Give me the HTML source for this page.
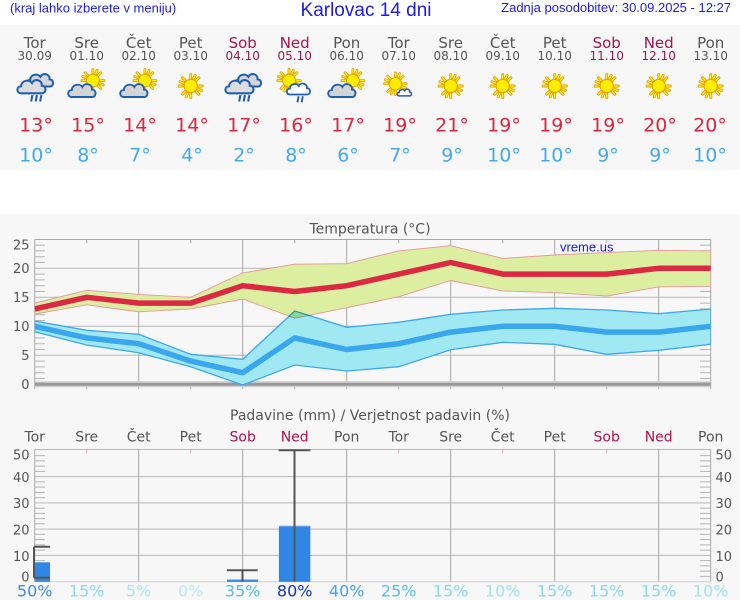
<!DOCTYPE html>
<html><head><meta charset="utf-8"><style>
html,body{margin:0;padding:0;background:#fff;}
svg{display:block;}
</style></head><body>
<svg width="740" height="600" viewBox="0 0 740 600" xmlns="http://www.w3.org/2000/svg" font-family="'DejaVu Sans', sans-serif">
<defs>
  <clipPath id="tc"><rect x="34.7" y="239.5" width="676" height="150"/></clipPath>
  <path id="cl" d="M-11,6 C-15.5,6 -15.5,-0.5 -11,-0.5 C-11,-5.5 -4,-7.5 -1,-3.5 C1,-8 8.5,-6.5 8,-1 C12.5,-1 12.5,6 8,6 Z"/>
  <g id="sun">
    <g stroke="#e39a00" stroke-width="2.8" stroke-linecap="round">
      <path d="M0,-7.5V-11 M0,7.5V11 M-7.5,0H-11 M7.5,0H11 M5.3,-5.3L7.8,-7.8 M-5.3,-5.3L-7.8,-7.8 M5.3,5.3L7.8,7.8 M-5.3,5.3L-7.8,7.8 M2.9,-6.9L4.2,-10.2 M-2.9,6.9L-4.2,10.2 M6.9,2.9L10.2,4.2 M-6.9,-2.9L-10.2,-4.2"/>
    </g>
    <g stroke="#fff000" stroke-width="1.3" stroke-linecap="round">
      <path d="M0,-7.5V-11 M0,7.5V11 M-7.5,0H-11 M7.5,0H11 M5.3,-5.3L7.8,-7.8 M-5.3,-5.3L-7.8,-7.8 M5.3,5.3L7.8,7.8 M-5.3,5.3L-7.8,7.8 M2.9,-6.9L4.2,-10.2 M-2.9,6.9L-4.2,10.2 M6.9,2.9L10.2,4.2 M-6.9,-2.9L-10.2,-4.2"/>
    </g>
    <circle r="6.3" fill="#ffee00" stroke="#e8a000" stroke-width="1"/>
  </g>
  <g id="rain">
    <use href="#cl" transform="translate(5,-4) scale(0.8)" fill="#d6d6d6" stroke="#1f5fb2" stroke-width="2"/>
    <use href="#cl" transform="translate(-1.5,1) scale(0.85)" fill="#dcdcdc" stroke="#1f5fb2" stroke-width="1.9"/>
    <path d="M-2,7.5L-3,12.5 M1.5,7.5L0.5,12.5 M5,7.5L4,12.5" stroke="#1f5fb2" stroke-width="1.6"/>
  </g>
  <g id="suncloud">
    <use href="#sun" transform="translate(5,-5) scale(0.85)"/>
    <use href="#cl" transform="translate(-3,3.5) scale(0.9)" fill="#d4d4d4" stroke="#1f5fb2" stroke-width="1.8"/>
  </g>
  <g id="sunrain">
    <use href="#sun" transform="translate(-5,-4) scale(0.85)"/>
    <use href="#cl" transform="translate(4,3) scale(0.75)" fill="#ffffff" stroke="#1f5fb2" stroke-width="2"/>
    <path d="M3,9L2,14 M6.5,9L5.5,14" stroke="#1f5fb2" stroke-width="1.6"/>
  </g>
  <g id="sunsmall">
    <use href="#sun" transform="translate(-3,-2) scale(0.9)"/>
    <use href="#cl" transform="translate(6,6) scale(0.5)" fill="#ffffff" stroke="#1f5fb2" stroke-width="2.8"/>
  </g>
</defs>

<!-- backgrounds -->
<rect x="0" y="0" width="740" height="600" fill="#ffffff"/>
<rect x="0" y="25" width="740" height="145" fill="#f7f7f7"/>
<rect x="0" y="214" width="740" height="386" fill="#f7f7f7"/>

<!-- header -->
<g font-family="'Liberation Sans', Arial, sans-serif" fill="#1a1aee">
  <text x="10" y="12.5" font-size="13">(kraj lahko izberete v meniju)</text>
  <text x="366" y="16" font-size="19" text-anchor="middle">Karlovac 14 dni</text>
  <text x="731" y="12" font-size="13" text-anchor="end">Zadnja posodobitev: 30.09.2025 - 12:27</text>
</g>

<!-- day names -->
<g font-size="15" text-anchor="middle" fill="#555">
  <text x="34.7" y="48">Tor</text><text x="86.7" y="48">Sre</text><text x="138.7" y="48">Čet</text><text x="190.7" y="48">Pet</text>
  <text x="242.7" y="48" fill="#a8124e">Sob</text><text x="294.7" y="48" fill="#a8124e">Ned</text><text x="346.7" y="48">Pon</text>
  <text x="398.7" y="48">Tor</text><text x="450.7" y="48">Sre</text><text x="502.7" y="48">Čet</text><text x="554.7" y="48">Pet</text>
  <text x="606.7" y="48" fill="#a8124e">Sob</text><text x="658.7" y="48" fill="#a8124e">Ned</text><text x="710.7" y="48">Pon</text>
</g>
<g font-size="12" text-anchor="middle" fill="#555">
  <text x="34.7" y="60">30.09</text><text x="86.7" y="60">01.10</text><text x="138.7" y="60">02.10</text><text x="190.7" y="60">03.10</text>
  <text x="242.7" y="60" fill="#a8124e">04.10</text><text x="294.7" y="60" fill="#a8124e">05.10</text><text x="346.7" y="60">06.10</text>
  <text x="398.7" y="60">07.10</text><text x="450.7" y="60">08.10</text><text x="502.7" y="60">09.10</text><text x="554.7" y="60">10.10</text>
  <text x="606.7" y="60" fill="#a8124e">11.10</text><text x="658.7" y="60" fill="#a8124e">12.10</text><text x="710.7" y="60">13.10</text>
</g>

<!-- icons -->
<use href="#rain" transform="translate(35,85.5) scale(1.28)"/>
<use href="#suncloud" transform="translate(87,86.5) scale(1.18)"/>
<use href="#suncloud" transform="translate(139,86.5) scale(1.18)"/>
<use href="#sun" transform="translate(190.7,86) scale(1.05)"/>
<use href="#rain" transform="translate(243,85.5) scale(1.28)"/>
<use href="#sunrain" transform="translate(295,85.5) scale(1.2)"/>
<use href="#suncloud" transform="translate(347,86.5) scale(1.18)"/>
<use href="#sunsmall" transform="translate(398.7,86) scale(1.1)"/>
<use href="#sun" transform="translate(450.7,86) scale(1.05)"/>
<use href="#sun" transform="translate(502.7,86) scale(1.05)"/>
<use href="#sun" transform="translate(554.7,86) scale(1.05)"/>
<use href="#sun" transform="translate(606.7,86) scale(1.05)"/>
<use href="#sun" transform="translate(658.7,86) scale(1.05)"/>
<use href="#sun" transform="translate(710.7,86) scale(1.05)"/>

<!-- max temps -->
<g font-size="19" text-anchor="middle" fill="#e0243c">
  <text x="36" y="131.5">13°</text><text x="88" y="131.5">15°</text><text x="140" y="131.5">14°</text><text x="192" y="131.5">14°</text>
  <text x="244" y="131.5">17°</text><text x="296" y="131.5">16°</text><text x="348" y="131.5">17°</text><text x="400" y="131.5">19°</text>
  <text x="452" y="131.5">21°</text><text x="504" y="131.5">19°</text><text x="556" y="131.5">19°</text><text x="608" y="131.5">19°</text>
  <text x="660" y="131.5">20°</text><text x="710" y="131.5">20°</text>
</g>
<!-- min temps -->
<g font-size="19" text-anchor="middle" fill="#44aaee">
  <text x="36" y="161.5">10°</text><text x="88" y="161.5">8°</text><text x="140" y="161.5">7°</text><text x="192" y="161.5">4°</text>
  <text x="244" y="161.5">2°</text><text x="296" y="161.5">8°</text><text x="348" y="161.5">6°</text><text x="400" y="161.5">7°</text>
  <text x="452" y="161.5">9°</text><text x="504" y="161.5">10°</text><text x="556" y="161.5">10°</text><text x="608" y="161.5">9°</text>
  <text x="660" y="161.5">9°</text><text x="710" y="161.5">10°</text>
</g>

<!-- ============ TEMPERATURE CHART ============ -->
<text x="370" y="233.3" font-size="14" text-anchor="middle" fill="#555">Temperatura (°C)</text>

<g stroke="#b8b8b8" stroke-width="1" fill="none">
  <path d="M34.7,268.3H710.7 M34.7,297.3H710.7 M34.7,326.3H710.7 M34.7,355.3H710.7"/>
</g>
<g stroke="#a8a8a8" stroke-width="1" fill="none">
  <path d="M138.7,239.5V389 M242.7,239.5V389 M346.7,239.5V389 M450.7,239.5V389 M554.7,239.5V389 M658.7,239.5V389"/>
  <path d="M86.7,239.5V243 M190.7,239.5V243 M294.7,239.5V243 M398.7,239.5V243 M502.7,239.5V243 M606.7,239.5V243 M86.7,385.5V389 M190.7,385.5V389 M294.7,385.5V389 M398.7,385.5V389 M502.7,385.5V389 M606.7,385.5V389"/>
  <path d="M34.7,239.5H710.7 M34.7,239.5V389 M710.7,239.5V389"/>
</g>
<g stroke="#b4b4b4" stroke-width="1" fill="none">
  <path d="M34.7,378.5H45 M34.7,372.7H45 M34.7,366.9H45 M34.7,361.1H45 M34.7,349.5H45 M34.7,343.7H45 M34.7,337.9H45 M34.7,332.1H45 M34.7,320.5H45 M34.7,314.7H45 M34.7,308.9H45 M34.7,303.1H45 M34.7,291.5H45 M34.7,285.7H45 M34.7,279.9H45 M34.7,274.1H45 M34.7,262.5H45 M34.7,256.7H45 M34.7,250.9H45 M34.7,245.1H45"/>
  <path d="M700,378.5H710.7 M700,372.7H710.7 M700,366.9H710.7 M700,361.1H710.7 M700,349.5H710.7 M700,343.7H710.7 M700,337.9H710.7 M700,332.1H710.7 M700,320.5H710.7 M700,314.7H710.7 M700,308.9H710.7 M700,303.1H710.7 M700,291.5H710.7 M700,285.7H710.7 M700,279.9H710.7 M700,274.1H710.7 M700,262.5H710.7 M700,256.7H710.7 M700,250.9H710.7 M700,245.1H710.7"/>
</g>

<!-- zero line -->
<path d="M34.7,384.3H710.7" stroke="#cfcfcf" stroke-width="6"/>
<path d="M34.7,384.3H710.7" stroke="#999" stroke-width="3"/>

<g clip-path="url(#tc)">
  <polygon points="34.7,303.1 86.7,290.3 138.7,294.4 190.7,297.3 242.7,272.9 294.7,264.2 346.7,263.7 398.7,250.9 450.7,245.7 502.7,258.4 554.7,255 606.7,252.6 658.7,250.3 710.7,250.9 710.7,286.3 658.7,286.9 606.7,296.1 554.7,292.7 502.7,290.9 450.7,280.5 398.7,296.7 346.7,307.7 294.7,318.2 242.7,299 190.7,308.9 138.7,311.8 86.7,304.8 34.7,314.1" fill="#dcefa0" stroke="#e8959a" stroke-width="0.9"/>
  <polygon points="34.7,321 86.7,330.3 138.7,334.3 190.7,354.3 242.7,359.3 294.7,311 346.7,327.3 398.7,322.3 450.7,314.3 502.7,310 554.7,308.3 606.7,310 658.7,313.7 710.7,309 710.7,344.3 658.7,350.3 606.7,354.3 554.7,344.3 502.7,342.3 450.7,349.7 398.7,366.7 346.7,371 294.7,365 242.7,385 190.7,366.7 138.7,352.7 86.7,345 34.7,331.7" fill="#a0e8f2" style="mix-blend-mode:multiply" stroke="#3ea8ee" stroke-width="1.3"/>
  <polyline points="34.7,308.9 86.7,297.3 138.7,303.1 190.7,303.1 242.7,285.7 294.7,291.5 346.7,285.7 398.7,274.1 450.7,262.5 502.7,274.1 554.7,274.1 606.7,274.1 658.7,268.3 710.7,268.3" fill="none" stroke="#dc2842" stroke-width="5.5" stroke-linejoin="round"/>
  <polyline points="34.7,326.3 86.7,337.9 138.7,343.7 190.7,361.1 242.7,372.7 294.7,337.9 346.7,349.5 398.7,343.7 450.7,332.1 502.7,326.3 554.7,326.3 606.7,332.1 658.7,332.1 710.7,326.3" fill="none" stroke="#3aa6ee" stroke-width="5.5" stroke-linejoin="round"/>
</g>

<g font-size="13" text-anchor="end" fill="#555">
  <text x="29.5" y="249.5">25</text><text x="29.5" y="273">20</text><text x="29.5" y="302">15</text>
  <text x="29.5" y="331">10</text><text x="29.5" y="360">5</text><text x="29.5" y="389">0</text>
</g>
<text x="560" y="251.5" font-family="'Liberation Sans', Arial, sans-serif" font-size="13" fill="#1a1aee">vreme.us</text>

<!-- ============ PRECIPITATION CHART ============ -->
<text x="370" y="420" font-size="14" text-anchor="middle" fill="#555">Padavine (mm) / Verjetnost padavin (%)</text>
<g font-size="14" text-anchor="middle" fill="#555">
  <text x="34.7" y="441.7">Tor</text><text x="86.7" y="441.7">Sre</text><text x="138.7" y="441.7">Čet</text><text x="190.7" y="441.7">Pet</text>
  <text x="242.7" y="441.7" fill="#b0104e">Sob</text><text x="294.7" y="441.7" fill="#b0104e">Ned</text><text x="346.7" y="441.7">Pon</text>
  <text x="398.7" y="441.7">Tor</text><text x="450.7" y="441.7">Sre</text><text x="502.7" y="441.7">Čet</text><text x="554.7" y="441.7">Pet</text>
  <text x="606.7" y="441.7" fill="#b0104e">Sob</text><text x="658.7" y="441.7" fill="#b0104e">Ned</text><text x="710.7" y="441.7">Pon</text>
</g>

<g stroke="#b8b8b8" stroke-width="1" fill="none">
  <path d="M34.7,555.35H710.7 M34.7,529.1H710.7 M34.7,502.85H710.7 M34.7,476.6H710.7"/>
</g>
<g stroke="#a8a8a8" stroke-width="1" fill="none">
  <path d="M138.7,449.5V581.6 M242.7,449.5V581.6 M346.7,449.5V581.6 M450.7,449.5V581.6 M554.7,449.5V581.6 M658.7,449.5V581.6"/>
  <path d="M34.7,449.5V581.6 M710.7,449.5V581.6"/>
</g>
<path d="M34.7,581.8H710.7" stroke="#d0d0d0" stroke-width="1"/>
<path d="M34.7,449.5H710.7" stroke="#e2a0c2" stroke-width="1"/>
<path d="M86.7,449.5V453 M190.7,449.5V453 M294.7,449.5V453 M398.7,449.5V453 M502.7,449.5V453 M606.7,449.5V453" stroke="#e2a0c2" stroke-width="1"/>
<g stroke="#b4b4b4" stroke-width="1" fill="none">
  <path d="M34.7,576.35H45 M34.7,571.1H45 M34.7,565.85H45 M34.7,560.6H45 M34.7,550.1H45 M34.7,544.85H45 M34.7,539.6H45 M34.7,534.35H45 M34.7,523.85H45 M34.7,518.6H45 M34.7,513.35H45 M34.7,508.1H45 M34.7,497.6H45 M34.7,492.35H45 M34.7,487.1H45 M34.7,481.85H45 M34.7,471.35H45 M34.7,466.1H45 M34.7,460.85H45 M34.7,455.6H45"/>
  <path d="M700,576.35H710.7 M700,571.1H710.7 M700,565.85H710.7 M700,560.6H710.7 M700,550.1H710.7 M700,544.85H710.7 M700,539.6H710.7 M700,534.35H710.7 M700,523.85H710.7 M700,518.6H710.7 M700,513.35H710.7 M700,508.1H710.7 M700,497.6H710.7 M700,492.35H710.7 M700,487.1H710.7 M700,481.85H710.7 M700,471.35H710.7 M700,466.1H710.7 M700,460.85H710.7 M700,455.6H710.7"/>
</g>

<!-- bars -->
<g fill="#2f86e4">
  <rect x="34.7" y="562.3" width="15.3" height="19.5"/>
  <rect x="227" y="579.6" width="31" height="2.2"/>
  <rect x="278.9" y="525.7" width="31.4" height="56.1"/>
</g>
<path d="M278.9,526H310.3" stroke="#8cc2f2" stroke-width="1"/>
<!-- error bars -->
<g stroke="#555" stroke-width="2" fill="none">
  <path d="M34,546.7V577.7 M34,546.7H50 M34,577.7H50"/>
  <path d="M242.5,570.3V581.6 M227,570.3H257.7"/>
  <path d="M294.5,450.3V581.6 M278.7,450.3H310.3"/>
</g>

<g font-size="13" fill="#555">
  <g text-anchor="end">
    <text x="29.5" y="459.5">50</text><text x="29.5" y="482">40</text><text x="29.5" y="508">30</text>
    <text x="29.5" y="534.5">20</text><text x="29.5" y="561">10</text><text x="29.5" y="581.5">0</text>
  </g>
  <g text-anchor="start">
    <text x="715.5" y="459.5">50</text><text x="715.5" y="482">40</text><text x="715.5" y="508">30</text>
    <text x="715.5" y="534.5">20</text><text x="715.5" y="561">10</text><text x="715.5" y="581.5">0</text>
  </g>
</g>

<!-- probabilities -->
<g font-size="16" text-anchor="middle">
  <text x="34.7" y="596.7" fill="#3a8de8">50%</text>
  <text x="86.7" y="596.7" fill="#86daf2">15%</text>
  <text x="138.7" y="596.7" fill="#a6e4f6">5%</text>
  <text x="190.7" y="596.7" fill="#b4ecf8">0%</text>
  <text x="242.7" y="596.7" fill="#55bcf0">35%</text>
  <text x="294.7" y="596.7" fill="#1232cc">80%</text>
  <text x="346.7" y="596.7" fill="#42a4ee">40%</text>
  <text x="398.7" y="596.7" fill="#50c2f2">25%</text>
  <text x="450.7" y="596.7" fill="#86daf2">15%</text>
  <text x="502.7" y="596.7" fill="#9ee2f4">10%</text>
  <text x="554.7" y="596.7" fill="#86daf2">15%</text>
  <text x="606.7" y="596.7" fill="#86daf2">15%</text>
  <text x="658.7" y="596.7" fill="#86daf2">15%</text>
  <text x="710.7" y="596.7" fill="#9ee2f4">10%</text>
</g>
</svg>
</body></html>
